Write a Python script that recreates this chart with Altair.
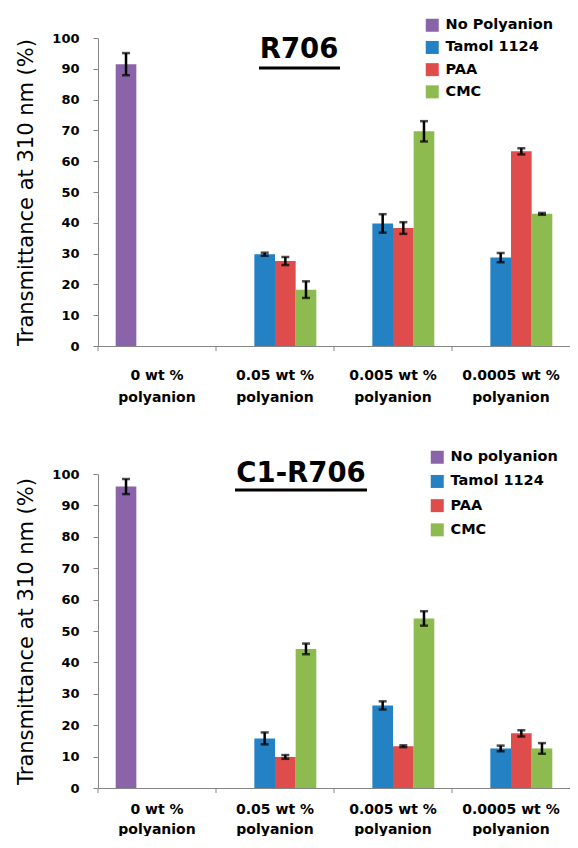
import altair as alt
import pandas as pd

# ---------------- data ----------------
categories = ["0 wt %\npolyanion", "0.05 wt %\npolyanion",
              "0.005 wt %\npolyanion", "0.0005 wt %\npolyanion"]
series_top = ["No Polyanion", "Tamol 1124", "PAA", "CMC"]
series_bottom = ["No polyanion", "Tamol 1124", "PAA", "CMC"]
colors = ["#8A64A8", "#2481C4", "#DF4C4C", "#8DBB4F"]

top_title = "R706"
bottom_title = "C1-R706"
y_title = "Transmittance at 310 nm (%)"
y_ticks = [0, 10, 20, 30, 40, 50, 60, 70, 80, 90, 100]

# R706 panel values (one list per series, one entry per category)
top_no = [91.5, None, None, None]
top_tamol = [None, 29.8, 39.8, 28.7]
top_paa = [None, 27.6, 38.3, 63.2]
top_cmc = [None, 18.3, 69.7, 42.9]
top_no_err = [3.6, None, None, None]
top_tamol_err = [None, 0.5, 3.0, 1.5]
top_paa_err = [None, 1.3, 1.9, 1.0]
top_cmc_err = [None, 2.7, 3.3, 0.3]

# C1-R706 panel values
bot_no = [96.0, None, None, None]
bot_tamol = [None, 15.8, 26.3, 12.6]
bot_paa = [None, 9.9, 13.3, 17.4]
bot_cmc = [None, 44.3, 54.0, 12.6]
bot_no_err = [2.4, None, None, None]
bot_tamol_err = [None, 1.9, 1.3, 0.9]
bot_paa_err = [None, 0.6, 0.3, 1.0]
bot_cmc_err = [None, 1.7, 2.3, 1.7]


def build_df(series, vals, errs):
    rows = []
    for s, (name, v, e) in enumerate(zip(series, vals, errs)):
        for c, cat in enumerate(categories):
            if v[c] is None:
                continue
            rows.append({"cat": cat, "series": name, "slot": s, "val": v[c],
                         "lo": v[c] - e[c], "hi": v[c] + e[c]})
    return pd.DataFrame(rows)


df_top = build_df(series_top, [top_no, top_tamol, top_paa, top_cmc],
                  [top_no_err, top_tamol_err, top_paa_err, top_cmc_err])
df_bot = build_df(series_bottom, [bot_no, bot_tamol, bot_paa, bot_cmc],
                  [bot_no_err, bot_tamol_err, bot_paa_err, bot_cmc_err])

FONT = "DejaVu Sans"
GRAY = "#868686"
W = 472


def panel(df, series, title, h, legend_x, legend_y, row_pad,
          title_x, title_y, ul_x1, ul_x2, ul_y, lab_pad, lab_lh, anchor_top):
    x_axis = alt.Axis(title=None, labelExpr="split(datum.label, '\\n')",
                      labelAngle=0, labelFont=FONT, labelFontSize=14,
                      labelFontWeight="bold", labelColor="black",
                      labelLineHeight=lab_lh, labelPadding=lab_pad,
                      ticks=False, domainColor=GRAY, grid=False)
    x = alt.X("cat:N", sort=categories,
              scale=alt.Scale(domain=categories, paddingInner=0, paddingOuter=0),
              axis=x_axis)
    xo = alt.XOffset("slot:O", scale=alt.Scale(domain=[0, 1, 2, 3],
                                               paddingInner=0, paddingOuter=0.857))
    y_axis = alt.Axis(title=y_title, titleFont=FONT, titleFontSize=21,
                      titleFontWeight="normal", titleColor="black", titlePadding=15,
                      labelFont=FONT, labelFontSize=13, labelFontWeight="bold",
                      labelColor="black", labelPadding=14, tickSize=5,
                      tickColor=GRAY, domainColor=GRAY, values=y_ticks, grid=False)
    yscale = alt.Scale(domain=[0, 100], nice=False)

    base = alt.Chart(df)
    bars = base.mark_bar().encode(
        x=x, xOffset=xo,
        y=alt.Y("val:Q", scale=yscale, axis=y_axis),
        color=alt.Color("series:N", scale=alt.Scale(domain=series, range=colors),
                        legend=alt.Legend(orient="none", legendX=legend_x,
                                          legendY=legend_y, title=None,
                                          symbolType="square", symbolSize=169,
                                          symbolStrokeWidth=0, labelFont=FONT,
                                          labelFontSize=14.5, labelFontWeight="bold",
                                          labelColor="black", rowPadding=row_pad,
                                          labelOffset=6, padding=0)),
    )
    err = base.mark_rule(color="black", strokeWidth=2.5).encode(
        x=x, xOffset=xo,
        y=alt.Y("lo:Q", scale=yscale, axis=y_axis), y2="hi:Q")
    cap_hi = base.mark_tick(color="black", size=8, thickness=2.5,
                            orient="horizontal").encode(
        x=x, xOffset=xo, y=alt.Y("hi:Q", scale=yscale, axis=y_axis))
    cap_lo = base.mark_tick(color="black", size=8, thickness=2.5,
                            orient="horizontal").encode(
        x=x, xOffset=xo, y=alt.Y("lo:Q", scale=yscale, axis=y_axis))

    cat_ticks = alt.Chart(pd.DataFrame({"cat": categories})).mark_rule(
        color=GRAY, strokeWidth=1).encode(
        x=alt.X("cat:N", sort=categories, bandPosition=0,
                scale=alt.Scale(domain=categories, paddingInner=0, paddingOuter=0),
                axis=x_axis),
        y=alt.value(h), y2=alt.value(h + 5))

    ttl = alt.Chart(pd.DataFrame({"t": [title]})).mark_text(
        font=FONT, fontSize=27.5, fontWeight="bold", color="black",
        align="center", baseline="alphabetic").encode(
        text="t:N", x=alt.value(title_x), y=alt.value(title_y))
    underline = alt.Chart(pd.DataFrame({"t": [title]})).mark_rule(
        color="black", strokeWidth=3).encode(
        x=alt.value(ul_x1), x2=alt.value(ul_x2), y=alt.value(ul_y))

    layers = [bars, err, cap_hi, cap_lo, cat_ticks, ttl, underline]
    if anchor_top:
        # invisible layout anchor fixing the top-left extent of the figure
        anchor = alt.Chart(pd.DataFrame({"t": [title]})).mark_rule(
            strokeOpacity=0, strokeWidth=0.1).encode(
            x=alt.value(-90), x2=alt.value(-89), y=alt.value(-30))
        layers.append(anchor)
    return alt.layer(*layers).properties(width=W, height=h)


top = panel(df_top, series_top, top_title, 308, 327, -20, 7.2,
            201, 20, 161, 242, 30, 22, 22, True)
bottom = panel(df_bot, series_bottom, bottom_title, 314, 332, -24, 9.2,
               203, 8, 137, 269, 16, 14, 20, False)

chart = alt.vconcat(top, bottom, spacing=128, bounds="flush").resolve_scale(
    color="independent", x="independent", y="independent"
).properties(
    padding={"left": 0, "top": 0, "right": 0, "bottom": 0}
).configure_view(stroke=None).configure_axis(domainColor=GRAY)

chart.save("out.html", embed_options={"renderer": "svg", "actions": False})
